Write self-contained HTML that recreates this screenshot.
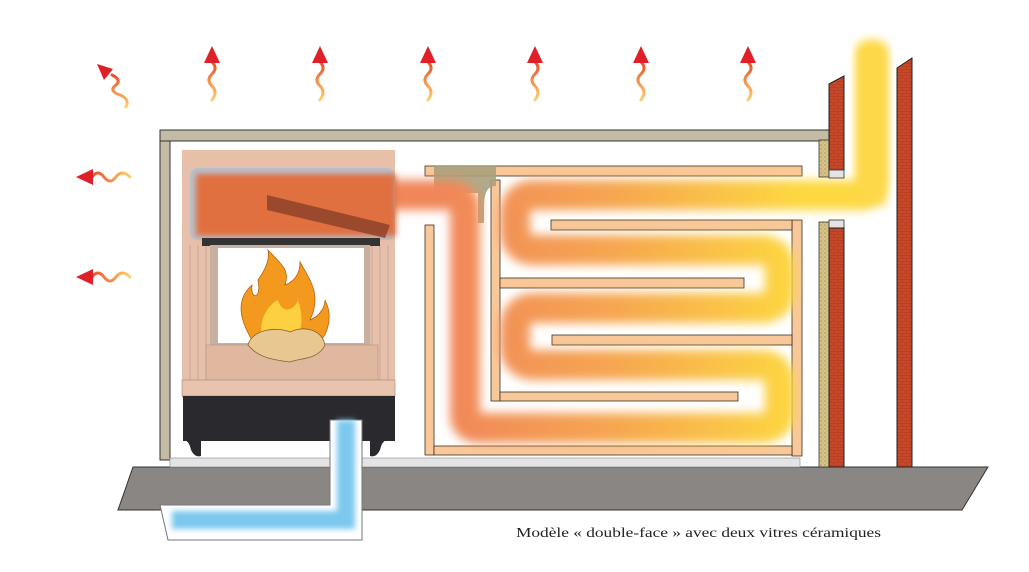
<!DOCTYPE html>
<html><head><meta charset="utf-8"><style>
html,body{margin:0;padding:0;background:#fff;}
svg{display:block}
</style></head><body>
<svg width="1029" height="572" viewBox="0 0 1029 572" xmlns="http://www.w3.org/2000/svg">
<defs>
<filter id="bl" x="-20%" y="-20%" width="140%" height="140%"><feGaussianBlur stdDeviation="5"/></filter>
<filter id="bl2" x="-20%" y="-20%" width="140%" height="140%"><feGaussianBlur stdDeviation="3"/></filter>
<linearGradient id="flow" gradientUnits="userSpaceOnUse" x1="440" y1="0" x2="800" y2="0">
<stop offset="0" stop-color="#f0865a"/><stop offset="0.5" stop-color="#f6a850"/><stop offset="1" stop-color="#fdd840"/></linearGradient>
<linearGradient id="wv" x1="0" y1="0" x2="0" y2="1"><stop offset="0" stop-color="#e8502a"/><stop offset="1" stop-color="#fbd070"/></linearGradient>
<linearGradient id="wh" x1="0" y1="0" x2="1" y2="0"><stop offset="0" stop-color="#e8502a"/><stop offset="1" stop-color="#fbd070"/></linearGradient>
<pattern id="brick" width="8" height="6" patternUnits="userSpaceOnUse"><rect width="8" height="6" fill="#c8482a"/><path d="M0 0.5H8M0 3.5H8M2 0.5V3.5M6 3.5V6" stroke="#a83820" stroke-width="0.6"/></pattern>
<pattern id="sand" width="4" height="4" patternUnits="userSpaceOnUse"><rect width="4" height="4" fill="#d8c488"/><circle cx="1" cy="1" r="0.6" fill="#8a7a40"/><circle cx="3" cy="3" r="0.5" fill="#a09050"/></pattern>
</defs>

<!-- floor slab -->
<polygon points="133,467 988,467 962,510 118,510" fill="#8a8684" stroke="#333" stroke-width="1"/>

<!-- enclosure -->
<rect x="160" y="130" width="10" height="330" fill="#c4bba4" stroke="#333" stroke-width="1"/>
<rect x="160" y="130" width="669" height="11" fill="#c4bba4" stroke="#333" stroke-width="1"/>
<rect x="170" y="458" width="630" height="9" fill="#e4e4e4" stroke="#888" stroke-width="0.6"/>

<!-- wooden frame -->
<g fill="#f8c89a" stroke="#3a3020" stroke-width="0.8">
<rect x="425" y="166" width="377" height="10"/>
<rect x="425" y="225" width="9" height="230"/>
<rect x="491" y="180" width="9" height="221"/>
<rect x="792" y="220" width="10" height="236"/>
<rect x="434" y="446" width="358" height="9"/>
<rect x="551" y="220" width="241" height="10"/>
<rect x="500" y="278" width="244" height="10"/>
<rect x="552" y="335" width="240" height="10"/>
<rect x="500" y="392" width="238" height="9"/>
</g>
<path d="M434 166h62v20c-10 0-12 8-12 25v12h-6v-30h-44z" fill="#a8a07c" opacity="0.9"/>

<!-- flow -->
<g filter="url(#bl)" fill="none" stroke-linecap="round" stroke-linejoin="round">
<path d="M390 195 H450 Q465 195 465 210 V415 Q465 428 480 428 H760 Q780 428 780 410 V385 Q780 365 760 365 H535 Q515 365 515 345 V330 Q515 308 535 308 H760 Q780 308 780 290 V270 Q780 250 760 250 H535 Q515 250 515 230 V215 Q515 195 535 195 H855 Q872 195 872 178 V55" stroke="url(#flow)" stroke-width="30"/>
</g>
<g filter="url(#bl)"><rect x="858" y="45" width="28" height="160" fill="#fdd84a"/></g>

<!-- walls -->
<rect x="819" y="140" width="10" height="37" fill="url(#sand)" stroke="#333" stroke-width="0.8"/>
<rect x="819" y="222" width="10" height="245" fill="url(#sand)" stroke="#333" stroke-width="0.8"/>
<polygon points="829,84 844,76 844,170 829,170" fill="url(#brick)" stroke="#222" stroke-width="1"/>
<rect x="829" y="170" width="15" height="8" fill="#e4e4e4" stroke="#333" stroke-width="0.8"/>
<rect x="829" y="220" width="15" height="8" fill="#e4e4e4" stroke="#333" stroke-width="0.8"/>
<rect x="829" y="228" width="15" height="239" fill="url(#brick)" stroke="#222" stroke-width="1"/>
<polygon points="897,68 912,58 912,467 897,467" fill="url(#brick)" stroke="#222" stroke-width="1"/>

<!-- fireplace -->
<rect x="182" y="150" width="213" height="14" fill="#e8c0a8"/>
<rect x="182" y="163" width="213" height="235" fill="#e6c0aa"/>
<path d="M190 245V380M198 245V380M206 245V380M372 245V380M380 245V380M388 245V380" stroke="#c8a090" stroke-width="0.8"/>
<rect x="190" y="168" width="205" height="72" rx="8" fill="#b8c0cc"/>
<g filter="url(#bl2)"><rect x="196" y="174" width="200" height="62" fill="#e07040"/></g>
<polygon points="267,195 390,225 385,238 267,210" fill="#8a4028" opacity="0.8"/>
<rect x="202" y="238" width="178" height="8" fill="#333"/>
<rect x="210" y="245" width="160" height="100" fill="#c8b0a0"/>
<rect x="218" y="248" width="146" height="95" fill="#fff"/>
<rect x="206" y="345" width="172" height="40" fill="#e0b8a0" stroke="#b89080" stroke-width="0.6"/>
<rect x="182" y="380" width="213" height="16" fill="#e8c4ae" stroke="#a08070" stroke-width="0.6"/>
<rect x="183" y="396" width="212" height="45" fill="#2a2a2e"/>
<path d="M183 440q6 0 8 10 4 8 10 6v-16zM388 440q-6 0 -8 10-4 8-10 6v-16z" fill="#2a2a2e"/>
<!-- fire -->
<path d="M252 340 C240 320 235 300 252 285 C250 300 262 300 258 280 C265 270 270 260 268 250 C282 265 290 270 285 285 C298 280 300 270 300 262 C310 280 322 295 310 320 C322 315 325 305 325 300 C335 320 325 340 315 345 Z" fill="#f39a1e" stroke="#b86010" stroke-width="0.8"/>
<path d="M262 338 C258 320 268 305 278 300 C282 315 295 310 298 300 C305 320 300 335 295 340Z" fill="#fcd040"/>
<path d="M248 345 C252 330 275 326 290 332 C305 325 322 330 325 345 C318 360 300 358 290 362 C275 360 258 358 248 345Z" fill="#e8c890" stroke="#8a6030" stroke-width="0.8"/>

<!-- cold air duct -->
<path d="M330 420 H362 V540 H168 L160 505 H330Z" fill="#fff" stroke="#777" stroke-width="1"/>
<g filter="url(#bl2)"><path d="M346 420 V520 H172" fill="none" stroke="#7cc8ee" stroke-width="18"/></g>

<!-- heat arrows -->
<g fill="none" stroke-width="3" stroke-linecap="round">
<path d="M112 75 q10 5 4 10 q-8 6 4 10 q10 4 6 12" stroke="url(#wv)"/>
<g id="ua"><path d="M212 62 q6 6 0 12 q-6 6 0 12 q6 6 0 14" stroke="url(#wv)"/></g>
<use href="#ua" x="108"/><use href="#ua" x="216"/><use href="#ua" x="323"/><use href="#ua" x="429"/><use href="#ua" x="536"/>
<path id="la" d="M92 177 q6 -8 12 0 q6 8 12 0 q6 -8 14 0" stroke="url(#wh)"/>
<use href="#la" y="100"/>
</g>
<g fill="#e02028">
<polygon points="97,64 113,69 104,80"/>
<g id="uh"><polygon points="212,46 220,63 204,63"/></g>
<use href="#uh" x="108"/><use href="#uh" x="216"/><use href="#uh" x="323"/><use href="#uh" x="429"/><use href="#uh" x="536"/>
<polygon points="76,177 93,169 93,185"/>
<polygon points="76,277 93,269 93,285"/>
</g>

<text x="516" y="537" font-family="'Liberation Serif',serif" font-size="13.5" fill="#222" textLength="365" lengthAdjust="spacingAndGlyphs">Modèle « double-face » avec deux vitres céramiques</text>
</svg>
</body></html>
